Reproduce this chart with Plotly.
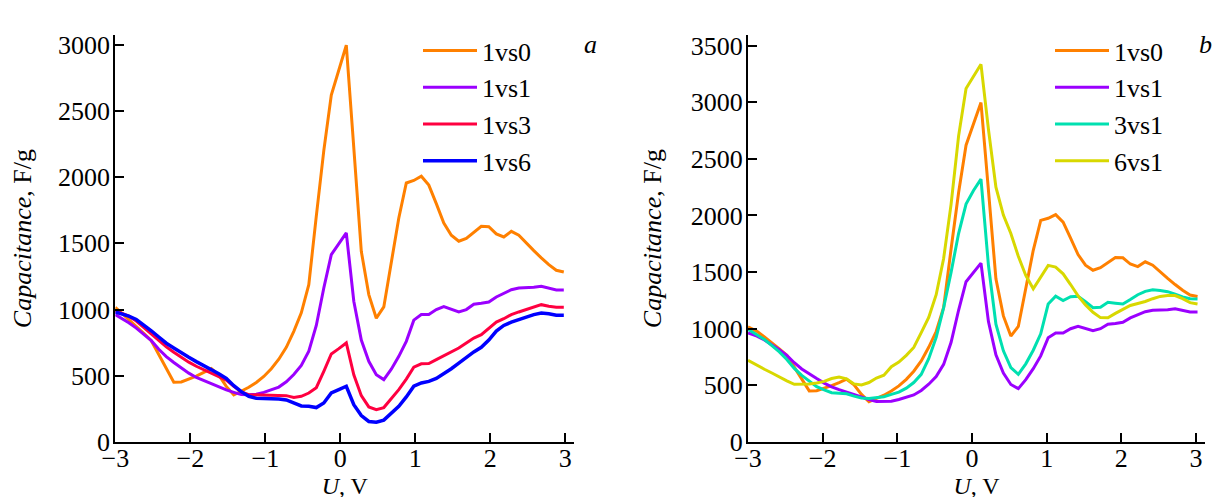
import plotly.graph_objects as go

# ---------------- data ----------------
# potential grid (V) for panel a
U = [-3.0, -2.92, -2.82, -2.72, -2.62, -2.52, -2.42, -2.32, -2.22, -2.12,
     -2.02, -1.92, -1.82, -1.72, -1.62, -1.52, -1.42, -1.32, -1.22, -1.12,
     -1.02, -0.92, -0.82, -0.72, -0.62, -0.52, -0.42, -0.32, -0.22, -0.12,
     -0.02, 0.08, 0.18, 0.28, 0.38, 0.48, 0.58, 0.68, 0.78, 0.88,
     0.98, 1.08, 1.18, 1.28, 1.38, 1.48, 1.58, 1.68, 1.78, 1.88,
     1.98, 2.08, 2.18, 2.28, 2.38, 2.48, 2.58, 2.68, 2.78, 2.88,
     2.98]
# panel b is drawn with a slight offset of the same grid
U_B = [U[0]] + [round(u + 0.04, 2) for u in U[1:]]

C_1vs0 = [1017, 977, 927, 876, 821, 765, 660, 546, 451, 453,
          474, 498, 525, 554, 505, 420, 355, 381, 413, 450,
          495, 553, 625, 715, 836, 975, 1188, 1706, 2200, 2620,
          2810, 2996, 2221, 1440, 1113, 935, 1020, 1340, 1692, 1956,
          1975, 2007, 1940, 1800, 1654, 1561, 1516, 1538, 1584, 1629,
          1626, 1571, 1548, 1591, 1561, 1500, 1445, 1390, 1339, 1297,
          1284]
C_1vs1 = [962, 935, 900, 860, 815, 765, 700, 645, 600, 560,
          520, 487, 462, 440, 417, 393, 375, 358, 357, 360,
          375, 393, 415, 455, 510, 578, 685, 880, 1163, 1415,
          1500, 1579, 1063, 770, 609, 508, 471, 550, 647, 760,
          920, 962, 962, 1000, 1022, 1000, 982, 1000, 1040, 1047,
          1057, 1095, 1125, 1150, 1163, 1163, 1168, 1176, 1163, 1148,
          1148]
C_1vs3 = [992, 972, 950, 913, 865, 817, 768, 718, 678, 638,
          603, 572, 545, 523, 497, 468, 420, 378, 357, 356,
          355, 350, 350, 350, 337, 345, 370, 410, 534, 665,
          705, 748, 508, 350, 265, 244, 260, 325, 395, 475,
          565, 590, 592, 622, 652, 680, 710, 748, 785, 811,
          858, 905, 931, 962, 982, 1000, 1017, 1037, 1025, 1017,
          1017]
C_1vs6 = [982, 968, 950, 925, 885, 840, 793, 746, 710, 672,
          640, 607, 578, 548, 515, 480, 425, 380, 345, 330,
          330, 330, 325, 318, 295, 272, 270, 260, 295, 370,
          395, 421, 282, 200, 155, 150, 165, 215, 270, 340,
          421, 446, 458, 480, 515, 553, 595, 640, 680, 715,
          770, 838, 880, 905, 925, 942, 962, 974, 969, 957,
          957]
C_3vs1 = [995, 950, 905, 850, 795, 728, 650, 588, 540, 488,
          460, 435, 430, 425, 405, 388, 385, 390, 400, 420,
          440, 475, 525, 597, 735, 923, 1185, 1500, 1840, 2100,
          2220, 2320, 1560, 1040, 805, 657, 597, 690, 810, 955,
          1218, 1287, 1248, 1282, 1287, 1238, 1185, 1190, 1233, 1225,
          1218, 1258, 1300, 1330, 1343, 1338, 1327, 1305, 1280, 1265,
          1263]
C_6vs1 = [722, 675, 642, 609, 572, 540, 509, 508, 513, 521,
          535, 560, 573, 558, 513, 504, 525, 565, 590, 665,
          705, 765, 835, 965, 1100, 1300, 1620, 2100, 2700, 3120,
          3230, 3334, 2760, 2250, 2003, 1840, 1640, 1470, 1352, 1460,
          1559, 1544, 1485, 1390, 1290, 1210, 1145, 1098, 1096, 1135,
          1170, 1205, 1222, 1240, 1265, 1285, 1293, 1293, 1265, 1230,
          1218]

X_TICKS = [-3, -2, -1, 0, 1, 2, 3]
Y_TICKS_A = [0, 500, 1000, 1500, 2000, 2500, 3000]
Y_TICKS_B = [0, 500, 1000, 1500, 2000, 2500, 3000, 3500]

ORANGE = "#FF8000"
PURPLE = "#9B00FF"
RED = "#FF0040"
BLUE = "#0000FF"
TEAL = "#00E0B0"
YELLOW = "#D8D800"

FONT = "Liberation Serif"
FS = 26
FS_XT = 24

fig = go.Figure()

panel_a = [("1vs0", C_1vs0, ORANGE, 3), ("1vs1", C_1vs1, PURPLE, 3),
           ("1vs3", C_1vs3, RED, 3), ("1vs6", C_1vs6, BLUE, 3.5)]
panel_b = [("1vs0", C_1vs0, ORANGE, 3), ("1vs1", C_1vs1, PURPLE, 3),
           ("3vs1", C_3vs1, TEAL, 3), ("6vs1", C_6vs1, YELLOW, 3)]

for i, (name, vals, col, w) in enumerate(panel_a):
    fig.add_trace(go.Scatter(x=U, y=vals, mode="lines", name=name,
                             line=dict(color=col, width=w),
                             xaxis="x", yaxis="y", legend="legend",
                             legendgroup="a%d" % i))
for i, (name, vals, col, w) in enumerate(panel_b):
    fig.add_trace(go.Scatter(x=U_B, y=vals, mode="lines", name=name,
                             line=dict(color=col, width=w),
                             xaxis="x2", yaxis="y2", legend="legend2",
                             legendgroup="b%d" % i))

W, H = 1222, 497
y_dom = [1 - 434 / H, 1 - 27.3 / H]

axis_common = dict(showline=True, linewidth=2, linecolor="black",
                   ticks="inside", ticklen=9, tickwidth=1.5, tickcolor="black",
                   showgrid=False, zeroline=False, automargin=False,
                   tickfont=dict(family=FONT, size=FS, color="black"))

x_common = dict(axis_common, ticklabelstandoff=-8)
y_common = dict(axis_common, ticklabelstandoff=-2)

fig.update_layout(
    width=W, height=H,
    margin=dict(l=0, r=0, t=0, b=0),
    paper_bgcolor="white", plot_bgcolor="white",
    font=dict(family=FONT, size=FS, color="black"),
    xaxis=dict(domain=[107.3 / W, 566.3 / W], range=[-3, 3.12], anchor="y",
               tickvals=X_TICKS,
               title=dict(text="<i>U</i>, V", standoff=0,
                          font=dict(family=FONT, size=FS_XT)),
               **x_common),
    yaxis=dict(domain=y_dom, range=[0, 3071], anchor="x",
               tickvals=Y_TICKS_A,
               title=dict(text="<i>Capacitance</i>, F/g", standoff=20,
                          font=dict(family=FONT, size=FS)),
               **y_common),
    xaxis2=dict(domain=[740 / W, 1197 / W], range=[-3, 3.12], anchor="y2",
                tickvals=X_TICKS,
                title=dict(text="<i>U</i>, V", standoff=0,
                           font=dict(family=FONT, size=FS_XT)),
                **x_common),
    yaxis2=dict(domain=y_dom, range=[0, 3590], anchor="x2",
                tickvals=Y_TICKS_B,
                title=dict(text="<i>Capacitance</i>, F/g", standoff=22,
                           font=dict(family=FONT, size=FS)),
                **y_common),
    legend=dict(x=410 / W, y=1 - 19 / H, xanchor="left", yanchor="top",
                bgcolor="rgba(0,0,0,0)", font=dict(family=FONT, size=FS),
                tracegroupgap=0, itemwidth=54),
    legend2=dict(x=1042 / W, y=1 - 19 / H, xanchor="left", yanchor="top",
                 bgcolor="rgba(0,0,0,0)", font=dict(family=FONT, size=FS),
                 tracegroupgap=0, itemwidth=54),
    annotations=[
        dict(text="<i>a</i>", x=582 / W, y=1 - 20 / H, xref="paper", yref="paper",
             showarrow=False, font=dict(family=FONT, size=FS)),
        dict(text="<i>b</i>", x=1206 / W, y=1 - 20 / H, xref="paper", yref="paper",
             showarrow=False, font=dict(family=FONT, size=FS)),
    ],
)

fig.write_html("out.html")
